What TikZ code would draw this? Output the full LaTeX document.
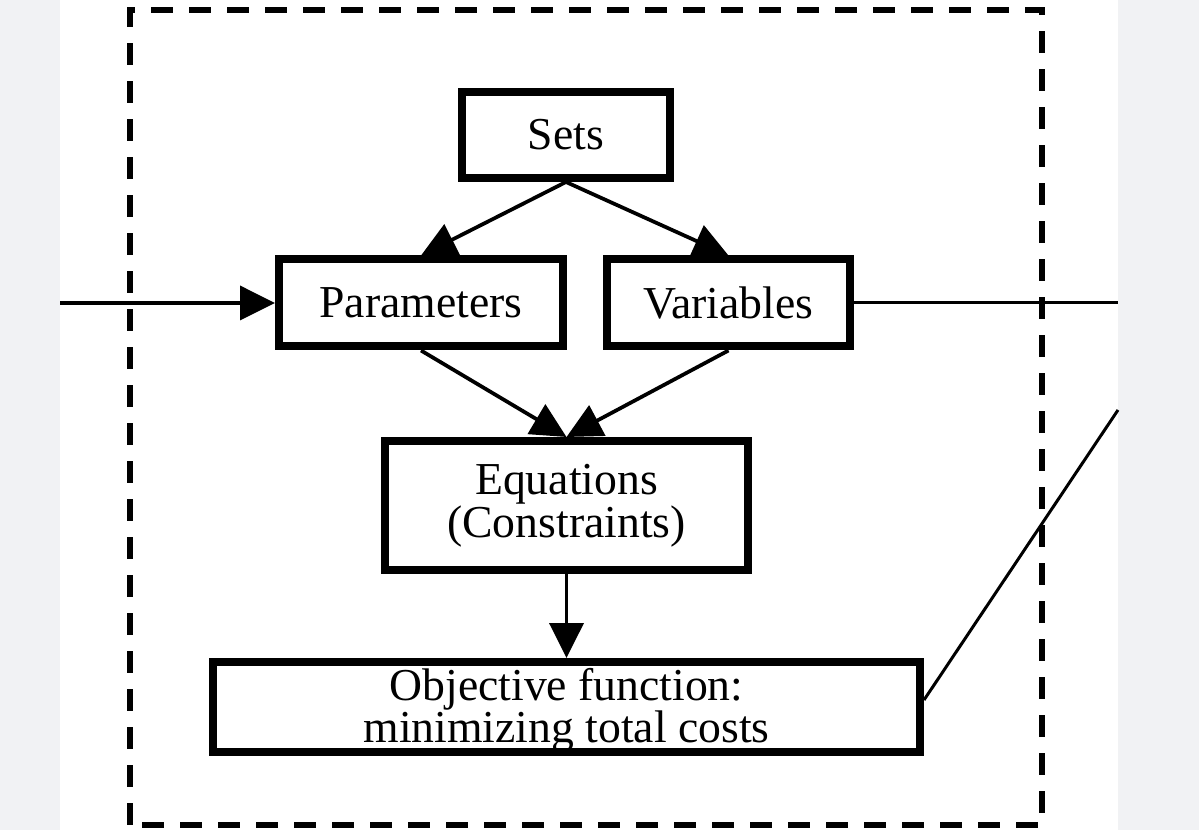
\documentclass[tikz,border=0pt]{standalone}
\usepackage{fontspec}
\setmainfont{Liberation Serif}
\usetikzlibrary{arrows.meta}

\definecolor{stripgray}{RGB}{241,242,244}

\begin{document}
\begin{tikzpicture}[
    box/.style={draw, line width=0.16cm, inner sep=0pt, align=center,
                font=\fontsize{26}{22}\selectfont},
    arr/.style={line width=0.075cm, -{Triangle[length=0.7cm, width=0.68cm]}},
    link/.style={line width=0.06cm}
  ]
    % page and side strips
    \useasboundingbox (0,0) rectangle (23.98,16.6);
    \fill[stripgray] (0,0) rectangle (1.2,16.6);
    \fill[stripgray] (22.36,0) rectangle (23.98,16.6);
    \draw[line width=0.12cm, dash pattern=on 0.44cm off 0.32cm] (2.6,0.1) rectangle (20.84,16.4);

    \node (sets) [box, minimum width=4.16cm, minimum height=1.72cm] at (11.32,13.9) {Sets};
    \node (params) [box, minimum width=5.68cm, minimum height=1.74cm] at (8.42,10.54) {Parameters};
    \node (vars) [box, minimum width=4.86cm, minimum height=1.74cm] at (14.57,10.54) {Variables};
    \node (eqs) [box, minimum width=7.26cm, minimum height=2.58cm] at (11.33,6.49) {Equations\\(Constraints)};
    \node (obj) [box, minimum width=14.14cm, minimum height=1.64cm] at (11.33,2.46) {\rule{0pt}{22pt}Objective function:\\[-1pt]minimizing total costs};

    \coordinate (in) at (1.2,10.54);
    \coordinate (out) at (22.36,10.54);
    \coordinate (up) at (22.36,8.4);

    \draw[arr] (sets.south) -- (params.north);
    \draw[arr] (sets.south) -- (vars.north);
    \draw[arr] (params.south) -- (eqs.north);
    \draw[arr] (vars.south) -- (eqs.north);
    \draw[arr] (eqs.south) -- (obj.north);
    \draw[arr] (in) -- (params.west);
    \draw[link] (vars.east) -- (out);
    \draw[link] ([yshift=0.14cm]obj.east) -- (up);
\end{tikzpicture}
\end{document}
